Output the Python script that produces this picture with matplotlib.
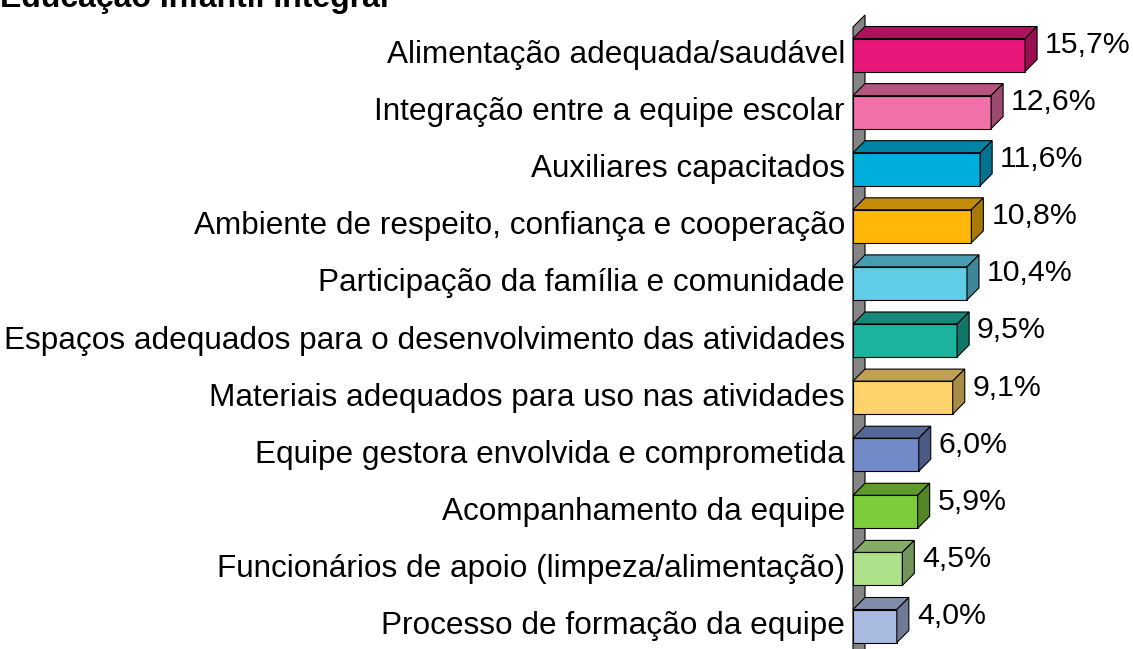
import matplotlib
matplotlib.use("Agg")
import numpy as np
from matplotlib import pyplot as plt
from matplotlib.patches import Polygon
from matplotlib.colors import to_rgb

categories = [
    "Alimentação adequada/saudável",
    "Integração entre a equipe escolar",
    "Auxiliares capacitados",
    "Ambiente de respeito, confiança e cooperação",
    "Participação da família e comunidade",
    "Espaços adequados para o desenvolvimento das atividades",
    "Materiais adequados para uso nas atividades",
    "Equipe gestora envolvida e comprometida",
    "Acompanhamento da equipe",
    "Funcionários de apoio (limpeza/alimentação)",
    "Processo de formação da equipe",
]
values = [15.7, 12.6, 11.6, 10.8, 10.4, 9.5, 9.1, 6.0, 5.9, 4.5, 4.0]
colors = ["#E8177A", "#F070AA", "#00AEDB", "#FFB80A", "#5FCDE6", "#1BB39E",
          "#FFD36B", "#7189C6", "#7DCC3A", "#AEE28A", "#A8BAE0"]
title = "Educação Infantil Integral"

W, H = 1133, 649
x0_px = 853          # left edge of bars
px_per_unit = 10.96  # pixels per percent
row0_px = 55         # centre of first row
row_px = 57.1        # row spacing

fig = plt.figure(figsize=(W / 100, H / 100), dpi=100)
ax = fig.add_axes([0, 0, 1, 1])
ax.set_xlim(-x0_px / px_per_unit, (W - x0_px) / px_per_unit)
ax.set_ylim((H - row0_px) / row_px, -row0_px / row_px)
ax.axis("off")

bar_h = 33 / row_px
dx = 12 / px_per_unit
dy = -12 / row_px


def shade(c, f):
    r, g, b = to_rgb(c)
    return (r * f, g * f, b * f)


# grey side wall
top_y = 27 / row_px - row0_px / row_px
bot_y = 12
wall = Polygon([(0, bot_y), (0, top_y), (dx, top_y + dy), (dx, bot_y + dy)],
               closed=True, facecolor="#858585", edgecolor="black", lw=0.8)
ax.add_patch(wall)

for i, (cat, v, c) in enumerate(zip(categories, values, colors)):
    yt = i - bar_h / 2
    yb = i + bar_h / 2
    front = Polygon([(0, yb), (0, yt), (v, yt), (v, yb)], closed=True,
                    facecolor=c, edgecolor="black", lw=0.8)
    top = Polygon([(0, yt), (dx, yt + dy), (v + dx, yt + dy), (v, yt)], closed=True,
                  facecolor=shade(c, 0.76), edgecolor="black", lw=0.8)
    side = Polygon([(v, yt), (v + dx, yt + dy), (v + dx, yb + dy), (v, yb)], closed=True,
                   facecolor=shade(c, 0.66), edgecolor="black", lw=0.8)
    for p in (front, top, side):
        ax.add_patch(p)
    ax.text(-8 / px_per_unit, i, cat, ha="right", va="center",
            fontsize=22.7, family="Liberation Sans")
    ax.text(v + dx + 8 / px_per_unit, i - 10 / row_px, f"{v:.1f}%".replace(".", ","),
            ha="left", va="center", fontsize=21.8, family="Liberation Sans")

ax.text(-x0_px / px_per_unit, -(row0_px - 7) / row_px, title, ha="left", va="baseline",
        fontsize=23, fontweight="bold", family="Liberation Sans")

fig.savefig("out.png", dpi=100)
